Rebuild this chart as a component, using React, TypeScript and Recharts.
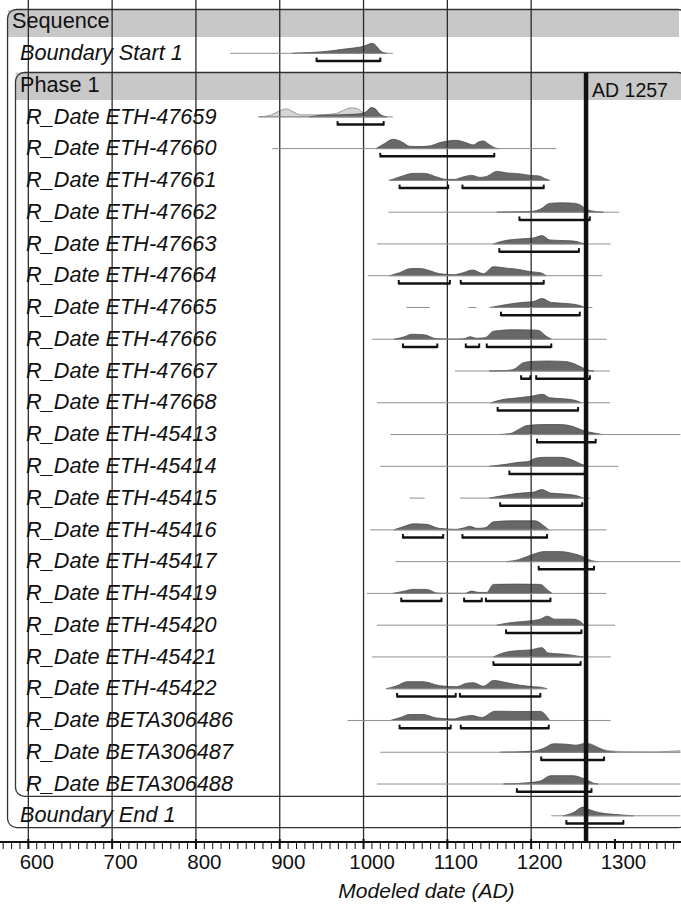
import React from 'react';
import { ComposedChart, XAxis, YAxis, Area, ReferenceLine, ReferenceArea, ReferenceDot } from 'recharts';

// ---------- data ----------
type P = [number, number];

const SEQUENCE_LABEL = 'Sequence';
const PHASE_LABEL = 'Phase 1';
const START_LABEL = 'Boundary Start 1';
const END_LABEL = 'Boundary End 1';
const DATE_LABELS = [
  'R_Date ETH-47659', 'R_Date ETH-47660', 'R_Date ETH-47661', 'R_Date ETH-47662', 'R_Date ETH-47663',
  'R_Date ETH-47664', 'R_Date ETH-47665', 'R_Date ETH-47666', 'R_Date ETH-47667', 'R_Date ETH-47668',
  'R_Date ETH-45413', 'R_Date ETH-45414', 'R_Date ETH-45415', 'R_Date ETH-45416', 'R_Date ETH-45417',
  'R_Date ETH-45419', 'R_Date ETH-45420', 'R_Date ETH-45421', 'R_Date ETH-45422',
  'R_Date BETA306486', 'R_Date BETA306487', 'R_Date BETA306488',
];

const AXIS_TITLE = 'Modeled date (AD)';
const REF_LABEL = 'AD 1257';
const REF_YEAR = 1265.5;
const GRID_YEARS = [600, 700, 800, 900, 1000, 1100, 1200];
const MAJOR_TICKS = [600, 700, 800, 900, 1000, 1100, 1200, 1300];
const MINOR_TICKS = [570, 580, 590, 600, 610, 620, 630, 640, 650, 660, 670, 680, 690, 700, 710, 720, 730, 740, 750, 760, 770, 780, 790, 800, 810, 820, 830, 840, 850, 860, 870, 880, 890, 900, 910, 920, 930, 940, 950, 960, 970, 980, 990, 1000, 1010, 1020, 1030, 1040, 1050, 1060, 1070, 1080, 1090, 1100, 1110, 1120, 1130, 1140, 1150, 1160, 1170, 1180, 1190, 1200, 1210, 1220, 1230, 1240, 1250, 1260, 1270, 1280, 1290, 1300, 1310, 1320, 1330, 1340, 1350, 1360, 1370];

// densities: [year, relative probability]
const startDens: P[] = [[915,0],[935,0.7],[950,1.5],[965,2.8],[975,4],[990,5.5],[1000,7],[1006,9],[1010,10],[1015,7.5],[1020,2.5],[1025,0.3],[1028,0]];
const d47659Lik: P[] = [[876,0],[890,2],[900,6],[908,8],[916,5],[925,2],[945,2],[965,3],[975,6],[985,9],[993,8],[1000,4],[1008,3],[1018,2],[1028,0]];
const d47659: P[] = [[935,0],[950,1.5],[970,2],[985,2.5],[995,3],[1003,5],[1009,9.3],[1014,8],[1019,3],[1024,0.5],[1028,0]];
const d47660: P[] = [[1015,0],[1025,5],[1035,9.3],[1045,7],[1055,2.3],[1065,2],[1078,2.5],[1091,6],[1100,7.5],[1111,8.3],[1118,7],[1123,5.7],[1131,3.7],[1137,6.5],[1143,7.7],[1150,4],[1156,1],[1161,0]];
const d47661: P[] = [[1031,0],[1045,4],[1059,7],[1073,7],[1087,3.5],[1099,1],[1109,1],[1117,3],[1129,5],[1139,3],[1147,4],[1159,9],[1171,7.5],[1187,6.5],[1199,5],[1209,4.5],[1216,2],[1222,0]];
const d47662: P[] = [[1159,0],[1187,0.3],[1203,1],[1211,3],[1222,8.7],[1234,9.3],[1250,9],[1258,7.5],[1266,3],[1278,0.5],[1286,0]];
const d47663: P[] = [[1155,0],[1167,3],[1187,5],[1203,6],[1213,8.3],[1222,4],[1234,3.5],[1250,3],[1260,1],[1264,0]];
const d47664: P[] = [[1031,0],[1043,3],[1055,7],[1067,7.3],[1079,5],[1091,2],[1107,1],[1119,3],[1130,5.7],[1143,2],[1155,9],[1171,7.5],[1187,6],[1199,4],[1211,3],[1218,0]];
const d47665: P[] = [[1151,0],[1171,3],[1189,5],[1203,6],[1213,9],[1224,5],[1242,4],[1258,2],[1264,0]];
const d47666: P[] = [[1036,0],[1047,2],[1058,5],[1072,4.5],[1087,0.5],[1110,0],[1120,0.5],[1127,2.5],[1135,1],[1145,1.5],[1155,8],[1180,9.5],[1208,9],[1218,3],[1224,0]];
const d47667: P[] = [[1150,0],[1170,0.5],[1180,2],[1190,8],[1200,9.5],[1220,10],[1240,9.5],[1252,7],[1262,3],[1270,0.5],[1275,0]];
const d47668: P[] = [[1152,0],[1165,3],[1185,5],[1200,6.5],[1214,8.5],[1222,5],[1238,4],[1252,2.5],[1260,0]];
const d45413: P[] = [[1160,0],[1175,1],[1185,5],[1195,9],[1215,10],[1235,10],[1250,8],[1262,4],[1275,1.5],[1285,0]];
const d45414: P[] = [[1150,0],[1170,2],[1185,4],[1195,4.5],[1205,8],[1215,9],[1235,9],[1250,6],[1260,2],[1268,0]];
const d45415: P[] = [[1150,0],[1170,3],[1188,5],[1203,6],[1213,8.5],[1223,5],[1240,4],[1256,2],[1262,0]];
const d45416: P[] = [[1036,0],[1047,3],[1060,6],[1075,5.5],[1090,1.5],[1110,0.5],[1120,2],[1127,3.5],[1135,1.5],[1145,2],[1155,8],[1175,9],[1205,9],[1215,4],[1221,0]];
const d45417: P[] = [[1170,0],[1185,2],[1195,5],[1205,8],[1215,10],[1235,10],[1250,8],[1262,5],[1272,1],[1280,0]];
const d45419: P[] = [[1035,0],[1047,2],[1059,4],[1075,4],[1087,0.5],[1095,0],[1121,0],[1129,2.3],[1137,1],[1147,1],[1155,9],[1183,9.3],[1211,9],[1220,3],[1225,0]];
const d45420: P[] = [[1159,0],[1171,2],[1195,4],[1211,6],[1219,9],[1228,6],[1250,6],[1258,4],[1263,0]];
const d45421: P[] = [[1155,0],[1163,3],[1179,6],[1199,7],[1213,9.3],[1220,4],[1242,2.5],[1258,0.5],[1262,0]];
const d45422: P[] = [[1027,0],[1040,3],[1052,7],[1071,7],[1091,3],[1111,2],[1123,5.5],[1131,6],[1143,2.5],[1155,8.3],[1171,6],[1187,3.5],[1203,2],[1211,1.5],[1219,0]];
const dB306486: P[] = [[1032,0],[1044,3],[1055,6],[1071,6],[1087,2.5],[1107,1.5],[1117,3.5],[1129,5],[1141,3],[1157,9.3],[1179,9],[1211,9],[1222,0]];
const dB306487Lik: P[] = [[1190,0],[1215,2],[1235,5],[1255,7],[1265,9.5],[1272,8],[1285,3],[1300,1],[1320,0.4],[1350,0.3],[1365,1],[1378,1.5]];
const dB306487: P[] = [[1163,0],[1203,1],[1215,4],[1227,8.5],[1242,8],[1254,7],[1266,8.5],[1278,5],[1290,1],[1300,0]];
const dB306488: P[] = [[1167,0],[1199,1.5],[1211,3],[1223,8.3],[1250,8.3],[1264,5],[1276,0.5],[1280,0]];
const endDens: P[] = [[1238,0],[1250,3],[1262,8.7],[1270,6],[1282,3],[1298,1.5],[1322,0]];

// thin likelihood baselines: [from, to]
const startLines: P[] = [[841, 1035]];
const l47659: P[] = [[874, 1035]];
const l47660: P[] = [[891, 1230]];
const l47661: P[] = [[1030, 1222]];
const l47662: P[] = [[1030, 1305]];
const l47663: P[] = [[1016, 1295]];
const l47664: P[] = [[1005, 1285]];
const l47665: P[] = [[1051, 1079], [1125, 1135], [1150, 1273]];
const l47666: P[] = [[1010, 1290]];
const l47667: P[] = [[1109, 1294]];
const l47668: P[] = [[1016, 1294]];
const l45413: P[] = [[1032, 1378]];
const l45414: P[] = [[1020, 1304]];
const l45415: P[] = [[1055, 1073], [1115, 1270]];
const l45416: P[] = [[1008, 1290]];
const l45417: P[] = [[1038, 1378]];
const l45419: P[] = [[1004, 1290]];
const l45420: P[] = [[1016, 1300]];
const l45421: P[] = [[1010, 1295]];
const l45422: P[] = [[1027, 1219]];
const lB306486: P[] = [[981, 1295]];
const lB306487: P[] = [[1020, 1378]];
const lB306488: P[] = [[1016, 1378]];
const endLines: P[] = [[1224, 1378]];

// highest posterior density ranges: [from, to]
const startBars: P[] = [[944, 1020]];
const b47659: P[] = [[969, 1024]];
const b47660: P[] = [[1020, 1156]];
const b47661: P[] = [[1043, 1101], [1118, 1215]];
const b47662: P[] = [[1186, 1270]];
const b47663: P[] = [[1162, 1257]];
const b47664: P[] = [[1042, 1103], [1116, 1215]];
const b47665: P[] = [[1164, 1258]];
const b47666: P[] = [[1047, 1088], [1122, 1138], [1147, 1224]];
const b47667: P[] = [[1188, 1199], [1206, 1270]];
const b47668: P[] = [[1160, 1256]];
const b45413: P[] = [[1207, 1277]];
const b45414: P[] = [[1174, 1264]];
const b45415: P[] = [[1163, 1261]];
const b45416: P[] = [[1047, 1095], [1118, 1219]];
const b45417: P[] = [[1209, 1275]];
const b45419: P[] = [[1045, 1093], [1120, 1141], [1146, 1223]];
const b45420: P[] = [[1170, 1260]];
const b45421: P[] = [[1155, 1259]];
const b45422: P[] = [[1040, 1110], [1115, 1211]];
const bB306486: P[] = [[1043, 1104], [1116, 1221]];
const bB306487: P[] = [[1212, 1287]];
const bB306488: P[] = [[1183, 1272]];
const endBars: P[] = [[1242, 1310]];

const DATE_DENS = [d47659, d47660, d47661, d47662, d47663, d47664, d47665, d47666, d47667, d47668, d45413, d45414, d45415, d45416, d45417, d45419, d45420, d45421, d45422, dB306486, dB306487, dB306488];
const DATE_LINES = [l47659, l47660, l47661, l47662, l47663, l47664, l47665, l47666, l47667, l47668, l45413, l45414, l45415, l45416, l45417, l45419, l45420, l45421, l45422, lB306486, lB306487, lB306488];
const DATE_BARS = [b47659, b47660, b47661, b47662, b47663, b47664, b47665, b47666, b47667, b47668, b45413, b45414, b45415, b45416, b45417, b45419, b45420, b45421, b45422, bB306486, bB306487, bB306488];
const DATE_LIK: Record<number, P[]> = { 0: d47659Lik, 20: dB306487Lik };

// ---------- layout ----------
const W = 681;
const H = 905;
const X_DOMAIN: [number, number] = [566.2, 1378.8];
const Y_DOMAIN: [number, number] = [-1.678, 24.825];
const DENS_UNIT = 0.0315;
const BAR_DROP = 0.243;
const BAR_HOOK = 0.11;
const FONT = '"Liberation Sans", Arial, Helvetica, sans-serif';

type Row = { row: number; label: string; italic: boolean; indent: number; dens?: P[]; lik?: P[]; lines?: P[]; bars?: P[] };

const ROWS: Row[] = [
  { row: -1, label: SEQUENCE_LABEL, italic: false, indent: 12 },
  { row: 0, label: START_LABEL, italic: true, indent: 20, dens: startDens, lines: startLines, bars: startBars },
  { row: 1, label: PHASE_LABEL, italic: false, indent: 20 },
  ...DATE_LABELS.map((label, i) => ({
    row: i + 2, label, italic: true, indent: 26,
    dens: DATE_DENS[i], lik: DATE_LIK[i], lines: DATE_LINES[i], bars: DATE_BARS[i],
  })),
  { row: 24, label: END_LABEL, italic: true, indent: 20, dens: endDens, lines: endLines, bars: endBars },
];

const toPts = (arr: P[]) => arr.map(([yr, h]) => ({ yr, h }));

const rowLabel = (r: Row) => (props: any) => {
  const vb = props.viewBox || { x: 0, y: 0, width: 0, height: 0 };
  const cy = vb.y + (vb.height || 0) / 2;
  return (
    <text x={r.indent} y={cy + 6.7} fontSize={21.7} fontFamily={FONT} fontStyle={r.italic ? 'italic' : 'normal'} fill="#111">
      {r.label}
    </text>
  );
};

const XTick = (props: any) => {
  const { x, y, payload } = props;
  const v = payload.value;
  const major = MAJOR_TICKS.includes(v);
  return (
    <g>
      <line x1={x} x2={x} y1={major ? y - 3 : y} y2={y + 7} stroke="#111" strokeWidth={major ? 2 : 1} />
      {major && (
        <text x={x + 8.5} y={y + 26.5} textAnchor="middle" fontSize={20.5} fontFamily={FONT} fill="#111">
          {v}
        </text>
      )}
    </g>
  );
};

const AxisTitle = (props: any) => {
  const vb = props.viewBox || { x: 0, y: 842, width: W, height: 63 };
  return (
    <text x={vb.x + vb.width / 2 + 86} y={vb.y + 55.5} textAnchor="middle" fontSize={21} fontStyle="italic" fontFamily={FONT} fill="#111">
      {AXIS_TITLE}
    </text>
  );
};

const RefLabel = (props: any) => {
  const vb = props.viewBox || { x: 586, y: 72 };
  return (
    <text x={vb.x + 6} y={vb.y + 24} fontSize={19.5} fontFamily={FONT} fill="#111">
      {REF_LABEL}
    </text>
  );
};

const roundBox = (p: any) => (
  <rect x={p.x} y={p.y} width={p.width} height={p.height} rx={9} ry={9} fill="none" stroke="#333" strokeWidth={1.3} />
);

export default function App() {
  return (
    <div style={{ position: 'absolute', left: 0, top: 0, width: W, height: H, background: '#fff' }}>
      <ComposedChart width={W} height={H} margin={{ top: 0, right: 0, bottom: 0, left: 0 }}>
        <XAxis
          type="number"
          dataKey="yr"
          domain={X_DOMAIN}
          allowDataOverflow
          ticks={MINOR_TICKS}
          interval={0}
          tickLine={false}
          tickSize={0}
          tickMargin={0}
          axisLine={{ stroke: '#111', strokeWidth: 2 }}
          tick={<XTick />}
          height={63}
          label={<AxisTitle />}
        />
        <YAxis type="number" domain={Y_DOMAIN} allowDataOverflow reversed width={0} hide />

        {/* header bands */}
        <ReferenceArea x1={575.7} x2={1376.4} y1={-1.363} y2={-0.513} fill="#c8c8c8" fillOpacity={1} stroke="none" ifOverflow="visible" />
        <ReferenceArea x1={584.9} x2={1378.8} y1={0.604} y2={1.47} fill="#c8c8c8" fillOpacity={1} stroke="none" ifOverflow="visible" />
        {/* sequence and phase boxes */}
        <ReferenceArea x1={575.2} x2={1386} y1={-1.379} y2={24.37} ifOverflow="visible" shape={roundBox} />
        <ReferenceArea x1={584.7} x2={1386} y1={0.604} y2={23.39} ifOverflow="visible" shape={roundBox} />

        {/* vertical grid */}
        {GRID_YEARS.map((g) => (
          <ReferenceLine key={'g' + g} x={g} stroke="#2b2b2b" strokeWidth={1.3} />
        ))}

        {/* thin baselines */}
        {ROWS.flatMap((r) =>
          (r.lines || []).map(([a, b], j) => (
            <ReferenceLine key={`ln${r.row}-${j}`} segment={[{ x: a, y: r.row }, { x: b, y: r.row }]} stroke="#8f8f8f" strokeWidth={1} ifOverflow="visible" />
          ))
        )}

        {/* likelihoods */}
        {ROWS.filter((r) => r.lik).map((r) => (
          <Area
            key={'lik' + r.row}
            data={toPts(r.lik as P[])}
            dataKey={(d: any) => [r.row, r.row - d.h * DENS_UNIT]}
            type="monotoneX"
            fill="#d6d6d6"
            fillOpacity={1}
            stroke="#8a8a8a"
            strokeWidth={0.8}
            dot={false}
            activeDot={false}
            isAnimationActive={false}
          />
        ))}

        {/* posteriors */}
        {ROWS.filter((r) => r.dens).map((r) => (
          <Area
            key={'d' + r.row}
            data={toPts(r.dens as P[])}
            dataKey={(d: any) => [r.row, r.row - d.h * DENS_UNIT]}
            type="monotoneX"
            fill="#686868"
            fillOpacity={1}
            stroke="#4a4a4a"
            strokeWidth={0.8}
            dot={false}
            activeDot={false}
            isAnimationActive={false}
          />
        ))}

        {/* ranges */}
        {ROWS.flatMap((r) =>
          (r.bars || []).flatMap(([a, b], j) => [
            <ReferenceLine key={`bh${r.row}-${j}`} segment={[{ x: a, y: r.row + BAR_DROP }, { x: b, y: r.row + BAR_DROP }]} stroke="#111" strokeWidth={2.5} />,
            <ReferenceLine key={`ba${r.row}-${j}`} segment={[{ x: a, y: r.row + BAR_DROP + 0.03 }, { x: a, y: r.row + BAR_DROP - BAR_HOOK }]} stroke="#111" strokeWidth={2} />,
            <ReferenceLine key={`bb${r.row}-${j}`} segment={[{ x: b, y: r.row + BAR_DROP + 0.03 }, { x: b, y: r.row + BAR_DROP - BAR_HOOK }]} stroke="#111" strokeWidth={2} />,
          ])
        )}

        {/* row labels */}
        {ROWS.map((r) => (
          <ReferenceDot key={'lab' + r.row} x={X_DOMAIN[0] + 1} y={r.row} r={0.01} fill="none" stroke="none" ifOverflow="visible" label={rowLabel(r)} />
        ))}

        {/* reference date */}
        <ReferenceLine
          segment={[{ x: REF_YEAR, y: 0.61 }, { x: REF_YEAR, y: Y_DOMAIN[1] }]}
          stroke="#111"
          strokeWidth={4.5}
          label={RefLabel}
        />
      </ComposedChart>
    </div>
  );
}
